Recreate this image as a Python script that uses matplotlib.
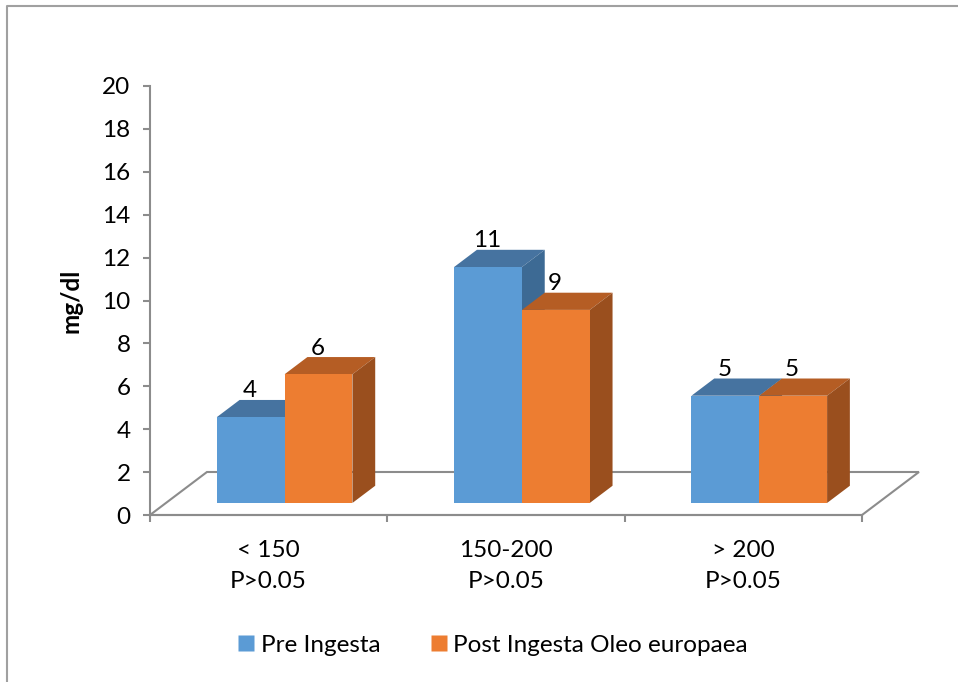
import matplotlib
matplotlib.use("Agg")
import matplotlib.pyplot as plt
from matplotlib.patches import Polygon
from matplotlib.lines import Line2D

plt.rcParams['font.family'] = ['Lato', 'DejaVu Sans']

categories = ['< 150\nP>0.05', '150-200\nP>0.05', '> 200\nP>0.05']
pre = [4, 11, 5]
post = [6, 9, 5]
series_names = ['Pre Ingesta', 'Post Ingesta Oleo europaea']

# front / top / side shades for each series
shades = [('#5B9BD5', '#4673A0', '#3D6A94'),
          ('#ED7D31', '#B55D24', '#9A4F1E')]

FS = 17.5

fig = plt.figure(figsize=(9.58, 6.82), dpi=100)
ax = fig.add_axes([150 / 958, 1 - 515 / 682, 712 / 958, 429 / 682])
ax.set_xlim(0, 3)
ax.set_ylim(0, 20)

# depth of the floor in data units, bar depth band within it
dx, dy = 0.240, 2.005
d0, d1 = 0.28, 0.68
bw = 1 / 3.5
gap = 0.75 * bw

grey = '#8C8C8C'

# floor
floor = Polygon([(0, 0), (3, 0), (3 + dx, dy), (dx, dy)], closed=True,
                facecolor='white', edgecolor=grey, lw=1.5, clip_on=False, zorder=1)
ax.add_patch(floor)

def draw_bar(x0, h, cols):
    fx, fy = dx * d0, dy * d0
    bx, by = dx * d1, dy * d1
    front, top, side = cols
    x1 = x0 + bw
    ax.add_patch(Polygon([(x0 + fx, h + fy), (x1 + fx, h + fy), (x1 + bx, h + by), (x0 + bx, h + by)],
                         facecolor=top, edgecolor='none', clip_on=False, zorder=2))
    ax.add_patch(Polygon([(x1 + fx, fy), (x1 + bx, by), (x1 + bx, h + by), (x1 + fx, h + fy)],
                         facecolor=side, edgecolor='none', clip_on=False, zorder=2))
    ax.add_patch(Polygon([(x0 + fx, fy), (x1 + fx, fy), (x1 + fx, h + fy), (x0 + fx, h + fy)],
                         facecolor=front, edgecolor='none', clip_on=False, zorder=2))
    ax.annotate(str(h), xy=(x0 + fx + bw / 2, h + by), xytext=(-1, 9),
                textcoords='offset pixels', ha='center', va='center',
                fontsize=FS, color='black', annotation_clip=False, zorder=3)

for i in range(len(categories)):
    left = i + gap
    draw_bar(left, pre[i], shades[0])
    draw_bar(left + bw, post[i], shades[1])

# axes styling
for s in ['top', 'right']:
    ax.spines[s].set_visible(False)
ax.spines['left'].set_color(grey)
ax.spines['left'].set_linewidth(1.5)
ax.spines['bottom'].set_color(grey)
ax.spines['bottom'].set_linewidth(1.5)
ax.spines['left'].set_zorder(0.5)

ax.set_yticks(range(0, 21, 2))
ax.tick_params(axis='y', length=5, width=1.5, color=grey, labelsize=FS, pad=9)
ax.set_xticks([0, 1, 2, 3])
ax.set_xticklabels([])
ax.tick_params(axis='x', which='major', length=5, width=1.5, color=grey)
ax.set_xticks([0.5, 1.5, 2.5], minor=True)
ax.set_xticklabels(categories, minor=True, fontsize=FS, linespacing=1.6)
ax.tick_params(axis='x', which='minor', length=0, pad=18)
ax.set_ylabel('mg/dl', fontsize=FS, fontweight='bold', labelpad=14)
ax.patch.set_visible(False)

# legend
handles = [Line2D([], [], marker='s', ls='none', markersize=11,
                  markerfacecolor=shades[k][0], markeredgecolor='none') for k in range(2)]
fig.legend(handles, series_names, loc='center', bbox_to_anchor=(492 / 958, 1 - 645 / 682),
           ncol=2, frameon=False, fontsize=FS, handletextpad=0.2, columnspacing=2.0,
           handlelength=0.8)

# outer frame (top and left edges)
fig.add_artist(Line2D([7 / 958, 7 / 958, 957 / 958], [0, 1 - 6 / 682, 1 - 6 / 682],
                      color='#A0A0A0', lw=1.5, transform=fig.transFigure))

fig.savefig('out.png', dpi=100)
